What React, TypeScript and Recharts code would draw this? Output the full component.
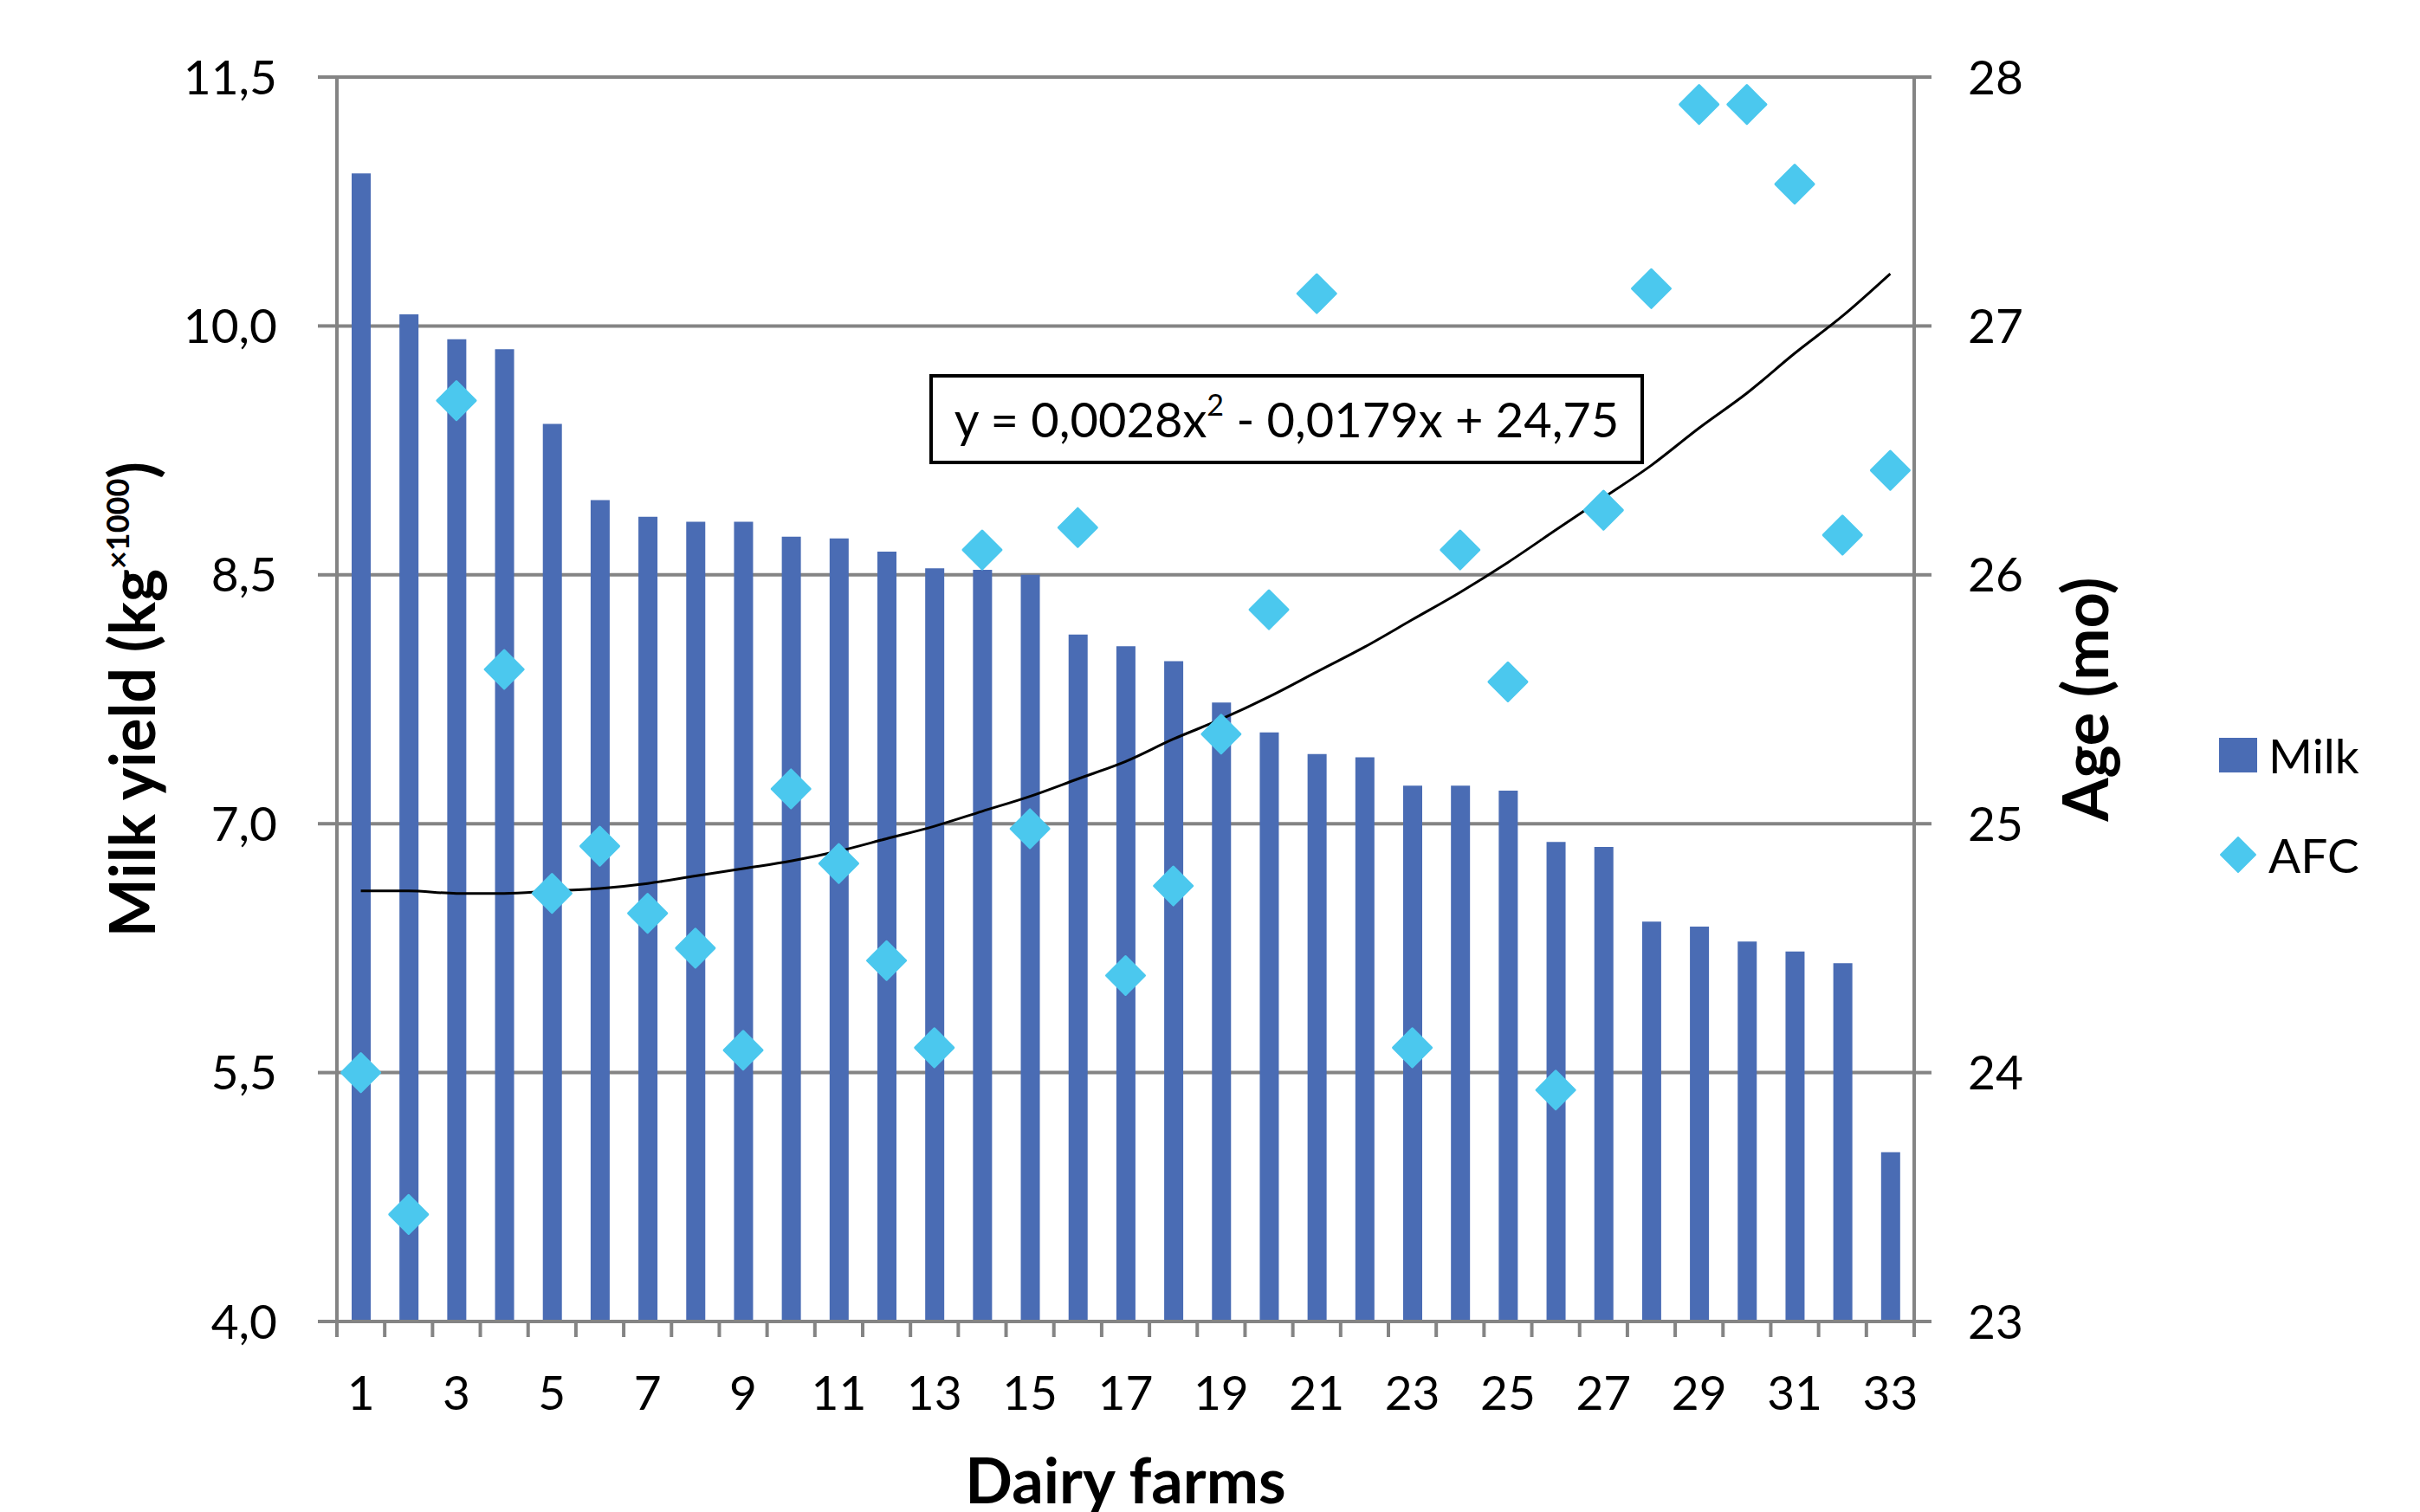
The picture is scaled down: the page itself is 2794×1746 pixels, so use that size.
import React from 'react'
import { ComposedChart, Bar, Scatter, Line, XAxis, YAxis, CartesianGrid, Legend } from 'recharts'

// values
const farms = [1, 2, 3, 4, 5, 6, 7, 8, 9, 10, 11, 12, 13, 14, 15, 16, 17, 18, 19, 20, 21, 22, 23, 24, 25, 26, 27, 28, 29, 30, 31, 32, 33]
const milk = [10.92, 10.07, 9.92, 9.86, 9.41, 8.95, 8.85, 8.82, 8.82, 8.73, 8.72, 8.64, 8.54, 8.53, 8.5, 8.14, 8.07, 7.98, 7.73, 7.55, 7.42, 7.4, 7.23, 7.23, 7.2, 6.89, 6.86, 6.41, 6.38, 6.29, 6.23, 6.16, 5.02]
const afc = [24.0, 23.43, 26.7, 25.62, 24.72, 24.91, 24.64, 24.5, 24.09, 25.14, 24.84, 24.45, 24.1, 26.1, 24.98, 26.19, 24.39, 24.75, 25.36, 25.86, 27.13, null, 24.1, 26.1, 25.57, 23.93, 26.26, 27.15, 27.89, 27.89, 27.57, 26.16, 26.42]
// trend line, y = 0,0028x² - 0,0179x + 24,75
const trend = [24.73, 24.73, 24.72, 24.72, 24.73, 24.74, 24.76, 24.79, 24.82, 24.85, 24.89, 24.94, 24.99, 25.05, 25.11, 25.18, 25.25, 25.34, 25.42, 25.51, 25.61, 25.71, 25.82, 25.93, 26.05, 26.18, 26.31, 26.44, 26.59, 26.73, 26.89, 27.04, 27.21]
const milkTicks = [4, 5.5, 7, 8.5, 10, 11.5]
const ageTicks = [23, 24, 25, 26, 27, 28]
const farmLabels = [1, 3, 5, 7, 9, 11, 13, 15, 17, 19, 21, 23, 25, 27, 29, 31, 33]
const legendOrder = ['Milk', 'AFC']

const GRAY = '#848484'
const BLUE = '#4a6cb4'
const CYAN = '#4bc8ee'
const FONT = 'Lato, "Open Sans", sans-serif'

const data = farms.map((farm, i) => ({ farm, milk: milk[i], trend: trend[i] }))
const afcPoints = farms
  .map((farm, i) => ({ farm, afc: afc[i] }))
  .filter((d) => d.afc !== null)

// tick marks sit on the category boundaries, labels on odd farms
const xTicks = [...farms.map((f) => f - 0.5), farms[farms.length - 1] + 0.5, ...farmLabels].sort((a, b) => a - b)

function FarmTick({ x, y, payload }: any) {
  const v = payload.value
  if (Number.isInteger(v)) {
    return (
      <text x={x} y={y + 102} textAnchor="middle" fontSize={55} fill="#000" fontFamily={FONT}>
        {v}
      </text>
    )
  }
  return <line x1={x} y1={y} x2={x} y2={y + 18} stroke={GRAY} strokeWidth={4} />
}

function Diamond({ cx, cy, fill }: any) {
  if (cx == null || cy == null) return null
  const r = 22
  return (
    <polygon
      points={`${cx},${cy - r} ${cx + r},${cy} ${cx},${cy + r} ${cx - r},${cy}`}
      fill={fill}
      stroke={fill}
      strokeWidth={3}
      strokeLinejoin="round"
    />
  )
}

function LeftTitle({ viewBox }: any) {
  const x = viewBox.x + 179
  const y = viewBox.y + viewBox.height / 2
  return (
    <text x={x} y={y} transform={`rotate(-90, ${x}, ${y})`} textAnchor="middle"
      fontSize={72} fontWeight="bold" fill="#000" fontFamily={FONT}>
      Milk yield (kg<tspan dy={-30} fontSize={36}>×1000</tspan><tspan dy={30}>)</tspan>
    </text>
  )
}

function RightTitle({ viewBox }: any) {
  const x = viewBox.x + 224
  const y = viewBox.y + viewBox.height / 2
  return (
    <text x={x} y={y} transform={`rotate(-90, ${x}, ${y})`} textAnchor="middle"
      fontSize={72} fontWeight="bold" fill="#000" fontFamily={FONT}>
      Age (mo)
    </text>
  )
}

function BottomTitle({ viewBox }: any) {
  return (
    <text x={viewBox.x + viewBox.width / 2} y={viewBox.y + 210} textAnchor="middle"
      fontSize={72} fontWeight="bold" fill="#000" fontFamily={FONT}>
      Dairy farms
    </text>
  )
}

function LegendBox({ payload }: any) {
  const items = legendOrder
    .map((name) => (payload || []).find((p: any) => p.value === name))
    .filter(Boolean)
  return (
    <div style={{ fontFamily: FONT, fontSize: 55, color: '#000', lineHeight: 1 }}>
      {items.map((entry: any) => (
        <div key={entry.value} style={{ display: 'flex', alignItems: 'center', height: 44, marginBottom: 71 }}>
          <svg width={44} height={44} style={{ marginRight: 13, flex: 'none' }}>
            {entry.value === 'AFC' ? (
              <polygon points="22,2 42,22 22,42 2,22" fill={CYAN} stroke={CYAN} strokeWidth={2} strokeLinejoin="round" />
            ) : (
              <rect x={0} y={2} width={44} height={40} fill={BLUE} />
            )}
          </svg>
          <span>{entry.value}</span>
        </div>
      ))}
    </div>
  )
}

export default function App() {
  return (
    <div style={{ position: 'fixed', left: 0, top: 0, width: 2794, height: 1746, background: '#fff', fontFamily: FONT }}>
      <ComposedChart width={2794} height={1746} data={data} margin={{ top: 89, right: 414, bottom: 0, left: 0 }}>
        <CartesianGrid yAxisId="milk" horizontal vertical={false} stroke={GRAY} strokeWidth={4} />
        <XAxis
          dataKey="farm"
          type="number"
          domain={[0.5, 33.5]}
          ticks={xTicks}
          interval={0}
          height={220}
          tickSize={0}
          tickMargin={0}
          tickLine={false}
          axisLine={{ stroke: GRAY, strokeWidth: 4 }}
          tick={<FarmTick />}
          label={<BottomTitle />}
        />
        <YAxis
          yAxisId="milk"
          domain={[4, 11.5]}
          ticks={milkTicks}
          width={389}
          tickSize={22}
          tickMargin={47}
          tickLine={{ stroke: GRAY, strokeWidth: 4 }}
          axisLine={{ stroke: GRAY, strokeWidth: 4 }}
          tick={{ fontSize: 55, fill: '#000', fontFamily: FONT }}
          tickFormatter={(v: number) => v.toFixed(1).replace('.', ',')}
          label={<LeftTitle />}
        />
        <YAxis
          yAxisId="age"
          orientation="right"
          domain={[23, 28]}
          ticks={ageTicks}
          width={170}
          tickSize={20}
          tickMargin={42}
          tickLine={{ stroke: GRAY, strokeWidth: 4 }}
          axisLine={{ stroke: GRAY, strokeWidth: 4 }}
          tick={{ fontSize: 55, fill: '#000', fontFamily: FONT, textAnchor: 'start' }}
          label={<RightTitle />}
        />
        <Bar yAxisId="milk" dataKey="milk" name="Milk" fill={BLUE} barSize={22} legendType="square" isAnimationActive={false} />
        <Line yAxisId="age" dataKey="trend" name="trend" type="monotone" stroke="#000" strokeWidth={3} dot={false} legendType="none" isAnimationActive={false} />
        <Scatter yAxisId="age" data={afcPoints} dataKey="afc" name="AFC" fill={CYAN} shape={<Diamond />} legendType="diamond" isAnimationActive={false} />
        <Legend
          layout="vertical"
          align="center"
          verticalAlign="middle"
          content={<LegendBox />}
          wrapperStyle={{ left: 2562, top: 850, width: 220 }}
        />
      </ComposedChart>
      <div
        style={{
          position: 'absolute', left: 1073, top: 432, width: 825, height: 104, boxSizing: 'border-box',
          border: '4px solid #000', background: '#fff', fontSize: 56, lineHeight: 1,
          display: 'flex', alignItems: 'center', justifyContent: 'center', whiteSpace: 'nowrap',
        }}
      >
        <span>y = 0,0028x<sup style={{ fontSize: 34, verticalAlign: 'top', position: 'relative', top: -6 }}>2</sup> - 0,0179x + 24,75</span>
      </div>
    </div>
  )
}
